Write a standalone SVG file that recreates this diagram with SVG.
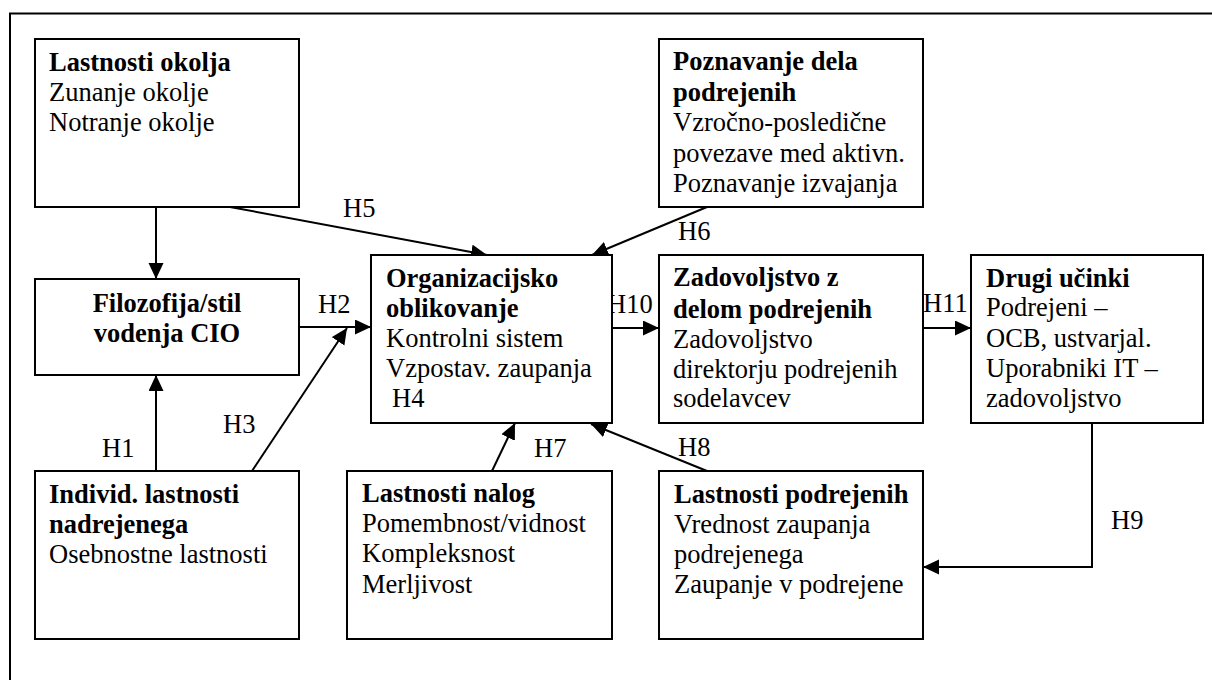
<svg xmlns="http://www.w3.org/2000/svg" width="1212" height="680" viewBox="0 0 1212 680">
  <style>
    .box { fill: #fff; stroke: #000; stroke-width: 2; }
    .frame { fill: none; stroke: #000; stroke-width: 2; }
    .conn { fill: none; stroke: #000; stroke-width: 2; marker-end: url(#arrow); }
    text { font-family: 'Liberation Serif', 'DejaVu Serif', serif; font-size: 26.5px; fill: #000; }
    .b { font-weight: bold; }
    .mid { text-anchor: middle; }
  </style>
  <defs>
    <marker id="arrow" markerUnits="userSpaceOnUse" markerWidth="17" markerHeight="16" refX="16" refY="7.5" orient="auto">
      <path d="M0,0 L16,7.5 L0,15 z" fill="#000"/>
    </marker>
  </defs>

  <rect width="1212" height="680" fill="#fff"/>
  <!-- outer frame, open towards the right and bottom edges -->
  <polyline class="frame" points="10,680 10,13.5 1212,13.5"/>

  <!-- connectors -->
  <g id="connectors">
    <line class="conn" x1="156" y1="207" x2="156" y2="279"/>
    <line class="conn" x1="156" y1="471" x2="156" y2="375"/>
    <line class="conn" x1="299" y1="327" x2="371" y2="327"/>
    <line class="conn" x1="252" y1="471" x2="347" y2="328"/>
    <line class="conn" x1="230" y1="207" x2="487" y2="255"/>
    <line class="conn" x1="707" y1="207" x2="592" y2="255"/>
    <line class="conn" x1="492" y1="471" x2="515" y2="423"/>
    <line class="conn" x1="707" y1="471" x2="591" y2="424"/>
    <line class="conn" x1="612" y1="328" x2="659" y2="328"/>
    <line class="conn" x1="923" y1="328" x2="971" y2="328"/>
    <polyline class="conn" points="1092,423 1092,567 923,567"/>
    <!-- hypothesis labels -->
    <text x="343" y="217">H5</text>
    <text x="318" y="313">H2</text>
    <text x="607" y="313">H10</text>
    <text x="923" y="312">H11</text>
    <text x="678" y="240">H6</text>
    <text x="102" y="457">H1</text>
    <text x="223" y="433">H3</text>
    <text x="534" y="457">H7</text>
    <text x="678" y="456">H8</text>
    <text x="1111" y="529">H9</text>
  </g>

  <g id="lastnosti-okolja">
    <rect class="box" x="35" y="39" width="264" height="168"/>
    <text class="b" x="49" y="71">Lastnosti okolja</text>
    <text x="49" y="101">Zunanje okolje</text>
    <text x="49" y="131">Notranje okolje</text>
  </g>

  <g id="poznavanje-dela">
    <rect class="box" x="659" y="39" width="264" height="168"/>
    <text class="b" x="673" y="70">Poznavanje dela</text>
    <text class="b" x="673" y="101">podrejenih</text>
    <text x="673" y="131">Vzročno-posledične</text>
    <text x="673" y="162">povezave med aktivn.</text>
    <text x="673" y="192">Poznavanje izvajanja</text>
  </g>

  <g id="filozofija">
    <rect class="box" x="35" y="279" width="264" height="96"/>
    <text class="b mid" x="167" y="312">Filozofija/stil</text>
    <text class="b mid" x="167" y="342">vodenja CIO</text>
  </g>

  <g id="organizacijsko-oblikovanje">
    <rect class="box" x="371" y="255" width="241" height="168"/>
    <text class="b" x="386" y="287">Organizacijsko</text>
    <text class="b" x="386" y="317">oblikovanje</text>
    <text x="386" y="347">Kontrolni sistem</text>
    <text x="386" y="377">Vzpostav. zaupanja</text>
    <text x="392" y="407">H4</text>
  </g>

  <g id="zadovoljstvo">
    <rect class="box" x="659" y="255" width="264" height="168"/>
    <text class="b" x="673" y="286">Zadovoljstvo z</text>
    <text class="b" x="673" y="318">delom podrejenih</text>
    <text x="673" y="348">Zadovoljstvo</text>
    <text x="673" y="378">direktorju podrejenih</text>
    <text x="673" y="407">sodelavcev</text>
  </g>

  <g id="drugi-ucinki">
    <rect class="box" x="971" y="255" width="232" height="168"/>
    <text class="b" x="986" y="287">Drugi učinki</text>
    <text x="986" y="316">Podrejeni –</text>
    <text x="986" y="347">OCB, ustvarjal.</text>
    <text x="986" y="377">Uporabniki IT –</text>
    <text x="986" y="407">zadovoljstvo</text>
  </g>

  <g id="individ-lastnosti">
    <rect class="box" x="35" y="471" width="264" height="168"/>
    <text class="b" x="49" y="503">Individ. lastnosti</text>
    <text class="b" x="49" y="533">nadrejenega</text>
    <text x="49" y="563">Osebnostne lastnosti</text>
  </g>

  <g id="lastnosti-nalog">
    <rect class="box" x="347" y="471" width="265" height="168"/>
    <text class="b" x="362" y="502">Lastnosti nalog</text>
    <text x="362" y="532">Pomembnost/vidnost</text>
    <text x="362" y="562">Kompleksnost</text>
    <text x="362" y="593">Merljivost</text>
  </g>

  <g id="lastnosti-podrejenih">
    <rect class="box" x="659" y="471" width="264" height="168"/>
    <text class="b" x="674" y="503">Lastnosti podrejenih</text>
    <text x="674" y="533">Vrednost zaupanja</text>
    <text x="674" y="563">podrejenega</text>
    <text x="674" y="593">Zaupanje v podrejene</text>
  </g>
</svg>
